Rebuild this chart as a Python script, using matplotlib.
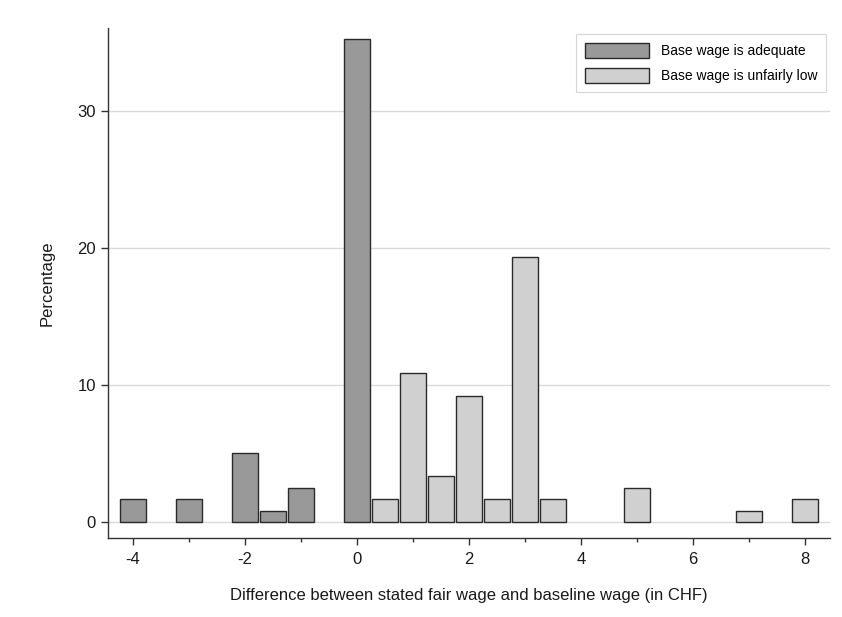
import matplotlib
matplotlib.use("Agg")
import matplotlib.pyplot as plt
from matplotlib.patches import Patch

plt.rcParams['font.family'] = ['Liberation Sans', 'DejaVu Sans']

# Data (percentages)
adequate_x = [-4, -3, -2, -1.5, -1, 0]
adequate_y = [1.68, 1.68, 5.04, 0.84, 2.52, 35.29]
low_x = [0.5, 1, 1.5, 2, 2.5, 3, 3.5, 5, 7, 8]
low_y = [1.68, 10.92, 3.36, 9.24, 1.68, 19.33, 1.68, 2.52, 0.84, 1.68]
xticks_major = [-4, -2, 0, 2, 4, 6, 8]
xticks_minor = [-3, -1, 1, 3, 5, 7]
yticks = [0, 10, 20, 30]
labels = ["Base wage is adequate", "Base wage is unfairly low"]

dark = "#999999"
light = "#d0d0d0"
edge = "#2a2a2a"

fig = plt.figure(figsize=(8.42, 6.17), dpi=100)
ax = fig.add_axes([0.128, 0.128, 0.858, 0.827])

ax.bar(adequate_x, adequate_y, width=0.48, color=dark, edgecolor=edge, linewidth=1.0, zorder=3)
ax.bar(low_x, low_y, width=0.48, color=light, edgecolor=edge, linewidth=1.0, zorder=3)

ax.set_xlim(-4.45, 8.45)
ax.set_ylim(-1.17, 36.1)
ax.set_xticks(xticks_major)
ax.set_xticks(xticks_minor, minor=True)
ax.set_yticks(yticks)
ax.set_xticklabels([str(v) for v in xticks_major])
ax.set_yticklabels([str(v) for v in yticks])

for v in yticks:
    ax.axhline(v, color="#d9d9d9", linewidth=1.0, zorder=1)

for s in ["top", "right"]:
    ax.spines[s].set_visible(False)
for s in ["left", "bottom"]:
    ax.spines[s].set_color("#333333")
    ax.spines[s].set_linewidth(1.0)

ax.tick_params(axis="y", which="major", direction="out", length=5, width=1, color="#333333",
               labelsize=12, labelcolor="#1a1a1a", pad=3.5)
ax.tick_params(axis="x", which="major", direction="out", length=5, width=1, color="#333333",
               labelsize=12, labelcolor="#1a1a1a", pad=5)
ax.tick_params(axis="x", which="minor", direction="out", length=3, width=1, color="#333333")

ax.set_xlabel("Difference between stated fair wage and baseline wage (in CHF)", fontsize=12,
              color="#1a1a1a", labelpad=15)
ax.set_ylabel("Percentage", fontsize=12, color="#1a1a1a", labelpad=16)

handles = [Patch(facecolor=dark, edgecolor=edge, linewidth=1.0),
           Patch(facecolor=light, edgecolor=edge, linewidth=1.0)]
leg = ax.legend(handles, labels, loc="upper right", bbox_to_anchor=(0.9945, 0.988), fontsize=10,
                frameon=True, fancybox=False, edgecolor="#cccccc", handlelength=4.6, handleheight=1.3,
                borderpad=0.65, labelspacing=0.7, handletextpad=0.85, borderaxespad=0.0)
leg.get_frame().set_linewidth(0.8)

fig.savefig("out.png", dpi=100, facecolor="white")
